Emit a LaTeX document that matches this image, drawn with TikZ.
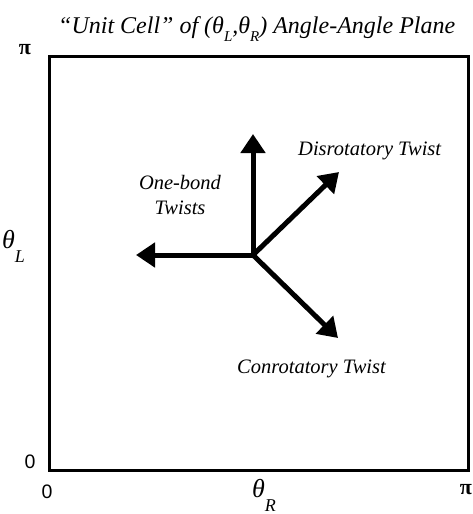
\documentclass[tikz,border=0pt]{standalone}
\usepackage{fontspec}
\setmainfont{Liberation Serif}
\newfontfamily\sansf{Liberation Sans}
\usetikzlibrary{arrows.meta}
% #1 = drop of subscript, #2 = subscript size, #3 = letter
\newcommand{\thsub}[3]{\textit{θ}\raisebox{-#1}{\fontsize{#2}{#2}\selectfont\textit{#3}}}
\begin{document}
\begin{tikzpicture}[x=1pt,y=-1pt,
  bigarrow/.style={line width=5pt,-{Triangle[length=19pt,width=24pt]}},
  lbl/.style={font=\fontsize{20.5}{25}\selectfont\itshape,inner sep=0pt,align=center},
  ticklbl/.style={font=\fontsize{19.5}{21}\selectfont\sansf,inner sep=0pt},
  pilbl/.style={font=\fontsize{22}{24}\selectfont\bfseries,inner sep=0pt},
  axlbl/.style={font=\fontsize{26}{28}\selectfont,inner sep=0pt}]
\useasboundingbox (0,0) rectangle (473,514);
\fill[white] (0,0) rectangle (473,514);
\node[draw,line width=2.8pt,minimum width=419pt,minimum height=414pt,inner sep=0pt,anchor=north west] (cell) at (48,55) {};
\node[font=\fontsize{24}{26}\selectfont\itshape,inner sep=0pt,anchor=base west] (title) at (58,33) {“Unit Cell” of (\thsub{0.35em}{15pt}{L},\thsub{0.35em}{15pt}{R}) Angle-Angle Plane};
\coordinate (o) at (253,255);
\coordinate (up) at (253,134);
\coordinate (lf) at (136,255);
\coordinate (dis) at (339,172);
\coordinate (con) at (338,338);
\draw[bigarrow] (o) -- (up);
\draw[bigarrow] (o) -- (lf);
\draw[bigarrow] (o) -- (dis);
\draw[bigarrow] (o) -- (con);
\node[lbl,anchor=base west] (disl) at (298,155) {Disrotatory Twist};
\node[lbl] (onel) at (180,195) {One-bond\\Twists};
\node[lbl,anchor=base west] (conl) at (237,373) {Conrotatory Twist};
\node[pilbl] (pitop) at (25,50) {π};
\node[ticklbl] (zleft) at (30,462) {0};
\node[ticklbl] (zbot) at (47,492) {0};
\node[pilbl] (pibot) at (466,490) {π};
\node[axlbl,anchor=base west] (thL) at (2,248) {\thsub{0.55em}{18pt}{L}};
\node[axlbl,anchor=base west] (thR) at (252,497) {\thsub{0.55em}{18pt}{R}};
\end{tikzpicture}
\end{document}
